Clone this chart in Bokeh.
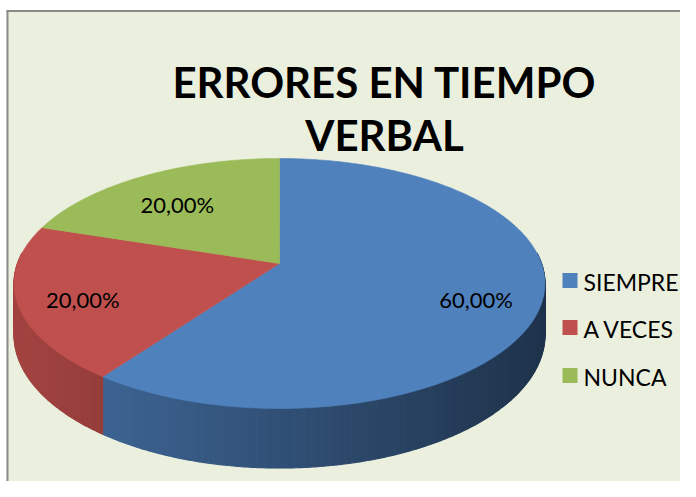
import numpy as np
from bokeh.plotting import figure
from bokeh.models import Range1d
from bokeh.core.properties import value
from bokeh.embed import file_html
from bokeh.resources import INLINE

# ---- data ----
title_lines = ["ERRORES EN TIEMPO", "VERBAL"]
categories = ["SIEMPRE", "A VECES", "NUNCA"]
values = [60, 20, 20]
colors = ["#4F81BD", "#C0504D", "#9BBB59"]

total = float(sum(values))
shares = [v / total * 100 for v in values]
labels = [f"{s:.2f}%".replace(".", ",") for s in shares]

# ---- figure in pixel coordinates ----
W, H = 680, 481
p = figure(width=W, height=H, x_range=Range1d(0, W), y_range=Range1d(H, 0),
           output_backend="svg", toolbar_location=None, min_border=0)
p.axis.visible = False
p.grid.visible = False
p.outline_line_color = None
p.background_fill_color = "white"
p.border_fill_color = "white"

BG = "#EBF0DE"
p.quad(left=6, right=W, top=10, bottom=H, fill_color=BG, line_color=None)
p.line([7, 7], [10, H], line_color="#8A8A8A", line_width=2)
p.line([6, W], [10.5, 10.5], line_color="#8A8A8A", line_width=2)

# ---- 3D pie projection ----
CX, CY, RX, RY, A, D = 279.0, 263.0, 262.0, 121.8, 0.16, 50.0


def proj(theta_deg, h=0.0):
    t = np.radians(theta_deg)
    s = 1.0 / (1.0 + A * np.cos(t))
    return CX + RX * np.sin(t) * s, CY - RY * np.cos(t) * s + h * D * s


def shade(hexcol, f):
    h = hexcol.lstrip("#")
    r, g, b = (int(h[i:i + 2], 16) for i in (0, 2, 4))
    return "#%02x%02x%02x" % (int(r * f), int(g * f), int(b * f))


cum = np.cumsum(shares)
starts = np.concatenate([[0.0], cum[:-1]]) * 3.6
ends = cum * 3.6

# side walls (front part) with horizontal shading
sx, sy, sc = [], [], []
for st, en, c in zip(starts, ends, colors):
    a0, a1 = max(st, 85.0), min(en, 275.0)
    if a1 <= a0:
        continue
    n = int(np.ceil((a1 - a0) * 2))
    edges = np.linspace(a0, a1, n + 1)
    for e0, e1 in zip(edges[:-1], edges[1:]):
        tx0, ty0 = proj(e0)
        tx1, ty1 = proj(e1)
        bx0, by0 = proj(e0, 1)
        bx1, by1 = proj(e1, 1)
        sx.append([tx0, tx1, bx1, bx0])
        sy.append([ty0, ty1, by1, by0])
        xm = (tx0 + tx1) / 2
        f = float(np.clip(0.40 + 0.45 * (545 - xm) / 528, 0.38, 0.88))
        sc.append(shade(c, f))
p.patches(xs=sx, ys=sy, fill_color=sc, line_color=sc, line_width=1.2)

# top faces
tx, ty = [], []
for st, en in zip(starts, ends):
    th = np.linspace(st, en, max(int(en - st), 2) + 1)
    x, y = proj(th)
    tx.append([CX] + list(x))
    ty.append([CY] + list(y))
p.patches(xs=tx, ys=ty, fill_color=colors, line_color=colors, line_width=0.6)

# data labels
mids = (starts + ends) / 2
mx, my = proj(mids)
FR = 0.75
lx = CX + FR * (mx - CX)
ly = CY + FR * (my - CY) + 6
p.text(x=lx, y=ly, text=labels, text_font=value("Lato"), text_font_size="22px",
       text_align="center", text_baseline="middle", text_color="black")

# legend
leg_y = [280, 327, 375]
p.rect(x=[569.5] * 3, y=leg_y, width=15, height=15, fill_color=colors, line_color=None)
p.text(x=[583] * 3, y=[v + 1 for v in leg_y], text=categories, text_font=value("Lato"),
       text_font_size="23px", text_align="left", text_baseline="middle", text_color="black")

# title
p.text(x=[384, 384], y=[81, 134], text=title_lines, text_font=value("Lato"),
       text_font_size="42px", text_font_style="bold", text_align="center",
       text_baseline="middle", text_color="black")

open("out.html", "w").write(file_html(p, INLINE))
